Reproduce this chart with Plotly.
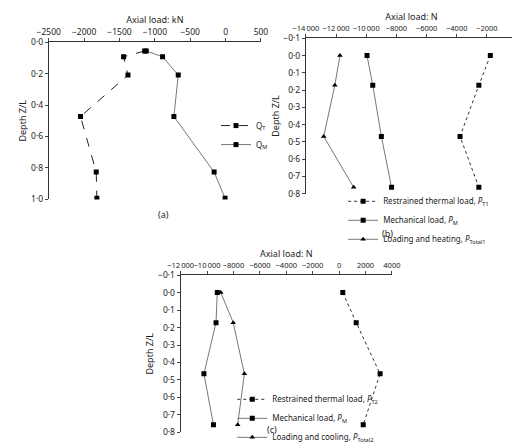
import plotly.graph_objects as go

# panel (a)
a_depth_T = [0.056, 0.093, 0.209, 0.473, 0.826, 0.992]
a_QT = [-1144, -1442, -1380, -2051, -1829, -1820]
a_depth_M = [0.056, 0.093, 0.209, 0.473, 0.826, 0.992]
a_QM = [-1122, -891, -669, -731, -162, -7]

# panel (b)
b_depth = [0.0, 0.172, 0.469, 0.764]
b_PT1 = [-1774, -2534, -3780, -2534]
b_PM = [-9946, -9566, -8996, -8320]
b_Ptot1 = [-11741, -12079, -12818, -10833]

# panel (c)
c_depth = [0.0, 0.172, 0.465, 0.756]
c_PT2 = [283, 1297, 3107, 1828]
c_PM = [-9225, -9321, -10238, -9514]
c_Ptot2 = [-8960, -8019, -7174, -7681]

W, H = 520, 444
def dx(a, b): return [a / W, b / W]
def dy(t, b): return [1 - b / H, 1 - t / H]

def nfmt(v):
    s = f"{abs(v):,}".replace(",", "\u2009") if abs(v) >= 10000 else str(abs(v))
    return ("\u2212" if v < 0 else "") + s

def dfmt(v):
    s = f"{abs(v):.1f}".replace(".", "\u00b7")
    return ("\u2212" if v < 0 else "") + s

font = dict(family="Noto Sans", size=9, color="#222")
tickfont = dict(family="Noto Sans", size=8.5, color="#222")
fig = go.Figure()
blk = dict(color="black", size=5)
gl = dict(color="#777", width=1)
dl = dict(color="#222", width=1, dash="dash")
dl2 = dict(color="#333", width=1, dash="dot")

fig.add_trace(go.Scatter(x=a_QT, y=a_depth_T, mode="lines+markers", line=dl, marker=dict(symbol="square", **blk),
                         name="Q<sub>T</sub>", xaxis="x", yaxis="y", legend="legend"))
fig.add_trace(go.Scatter(x=a_QM, y=a_depth_M, mode="lines+markers", line=gl, marker=dict(symbol="square", **blk),
                         name="Q<sub>M</sub>", xaxis="x", yaxis="y", legend="legend"))

fig.add_trace(go.Scatter(x=b_PT1, y=b_depth, mode="lines+markers", line=dl2, marker=dict(symbol="square", **blk),
                         name="Restrained thermal load, <i>P</i><sub>T1</sub>", xaxis="x2", yaxis="y2", legend="legend2"))
fig.add_trace(go.Scatter(x=b_PM, y=b_depth, mode="lines+markers", line=gl, marker=dict(symbol="square", **blk),
                         name="Mechanical load, <i>P</i><sub>M</sub>", xaxis="x2", yaxis="y2", legend="legend2"))
fig.add_trace(go.Scatter(x=b_Ptot1, y=b_depth, mode="lines+markers", line=gl, marker=dict(symbol="triangle-up", **blk),
                         name="Loading and heating, <i>P</i><sub>Total1</sub>", xaxis="x2", yaxis="y2", legend="legend2"))

fig.add_trace(go.Scatter(x=c_PT2, y=c_depth, mode="lines+markers", line=dl2, marker=dict(symbol="square", **blk),
                         name="Restrained thermal load, <i>P</i><sub>T2</sub>", xaxis="x3", yaxis="y3", legend="legend3"))
fig.add_trace(go.Scatter(x=c_PM, y=c_depth, mode="lines+markers", line=gl, marker=dict(symbol="square", **blk),
                         name="Mechanical load, <i>P</i><sub>M</sub>", xaxis="x3", yaxis="y3", legend="legend3"))
fig.add_trace(go.Scatter(x=c_Ptot2, y=c_depth, mode="lines+markers", line=gl, marker=dict(symbol="triangle-up", **blk),
                         name="Loading and cooling, <i>P</i><sub>Total2</sub>", xaxis="x3", yaxis="y3", legend="legend3"))

def xax(rng, ticks, title, dom, anchor, fs):
    return dict(domain=dom, range=rng, side="top", anchor=anchor, tickvals=ticks, ticktext=[nfmt(t) for t in ticks],
                tickangle=0, tickfont=dict(family="Noto Sans", size=fs, color="#222"),
                title=dict(text=title, standoff=0, font=font), showline=True, linecolor="#333", ticks="outside", ticklen=3,
                showgrid=False, zeroline=False, minor=dict(ticks="outside", ticklen=2, nticks=2))

def yax(rng, ticks, dom, anchor):
    return dict(domain=dom, range=rng, anchor=anchor, tickvals=ticks, ticktext=[dfmt(t) for t in ticks],
                tickfont=tickfont, title=dict(text="Depth Z/L", standoff=2, font=font),
                showline=True, linecolor="#333", ticks="outside", ticklen=3,
                showgrid=False, zeroline=False, minor=dict(ticks="outside", ticklen=2, nticks=2))

yt_a = [0.0, 0.2, 0.4, 0.6, 0.8, 1.0]
yt_b = [round(-0.1 + 0.1 * i, 1) for i in range(10)]

legfont = dict(family="Noto Sans", size=8, color="#222")
fig.update_layout(
    width=W, height=H, margin=dict(l=0, r=0, t=0, b=0), paper_bgcolor="white", plot_bgcolor="white",
    font=font, showlegend=True,
    xaxis=xax([-2500, 500], list(range(-2500, 501, 500)), "Axial load: kN", dx(28, 250), "y", 8.5),
    yaxis=yax([1.0, 0.0], yt_a, dy(29, 191), "x"),
    xaxis2=xax([-14000, 0], list(range(-14000, 1, 2000)), "Axial load: N", dx(297, 518), "y2", 7.5),
    yaxis2=yax([0.8, -0.1], yt_b, dy(25, 185), "x2"),
    xaxis3=xax([-12000, 4000], list(range(-12000, 4001, 2000)), "Axial load: N", dx(166, 387), "y3", 7.5),
    yaxis3=yax([0.8, -0.1], yt_b, dy(269, 431), "x3"),
    legend=dict(x=203 / W, y=1 - 100 / H, xanchor="left", yanchor="top", font=legfont, bgcolor="rgba(0,0,0,0)",
                tracegroupgap=0, itemwidth=30),
    legend2=dict(x=336 / W, y=1 - 178 / H, xanchor="left", yanchor="top", font=legfont, bgcolor="rgba(0,0,0,0)",
                 tracegroupgap=0, itemwidth=30),
    legend3=dict(x=220 / W, y=1 - 382 / H, xanchor="left", yanchor="top", font=legfont, bgcolor="rgba(0,0,0,0)",
                 tracegroupgap=0, itemwidth=30),
    annotations=[
        dict(text="(a)", x=140 / W, y=1 - 207 / H, xref="paper", yref="paper", showarrow=False, font=font),
        dict(text="(b)", x=390 / W, y=1 - 226 / H, xref="paper", yref="paper", showarrow=False, font=font),
        dict(text="(c)", x=262 / W, y=1 - 437 / H, xref="paper", yref="paper", showarrow=False, font=font),
    ],
)

fig.write_html("out.html")
